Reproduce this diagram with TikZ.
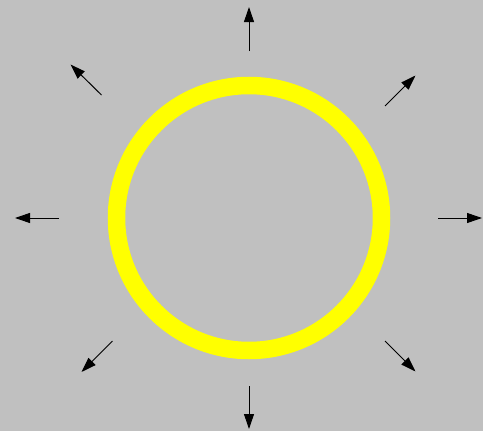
\documentclass[tikz,border=0pt]{standalone}
\usetikzlibrary{arrows.meta}
\definecolor{bg}{HTML}{C0C0C0}
\definecolor{sun}{HTML}{FFFF00}
\begin{document}
\begin{tikzpicture}[x=1pt,y=-1pt,
  ray/.style={line width=1pt,-{Triangle[length=15pt,width=10pt]}},
  ring/.style={draw=sun,line width=17.5pt}]
\fill[bg] (0,0) rectangle (483,431);
\useasboundingbox (0,0) rectangle (483,431);
\coordinate (c) at (249,218);
\draw[ring] (c) circle[radius=132.5];
\coordinate (t1) at (249,51);   \coordinate (h1) at (249,7);
\coordinate (t2) at (249,386);  \coordinate (h2) at (249,429);
\coordinate (t3) at (59,218);   \coordinate (h3) at (15,218);
\coordinate (t4) at (438,218);  \coordinate (h4) at (482,218);
\coordinate (t5) at (101.5,95); \coordinate (h5) at (70.5,64.5);
\coordinate (t6) at (385,106);  \coordinate (h6) at (415.5,75.5);
\coordinate (t7) at (112.5,341);\coordinate (h7) at (81.5,372);
\coordinate (t8) at (385,341);  \coordinate (h8) at (415.5,371.5);
\foreach \i in {1,...,8} \draw[ray] (t\i) -- (h\i);
\end{tikzpicture}
\end{document}
